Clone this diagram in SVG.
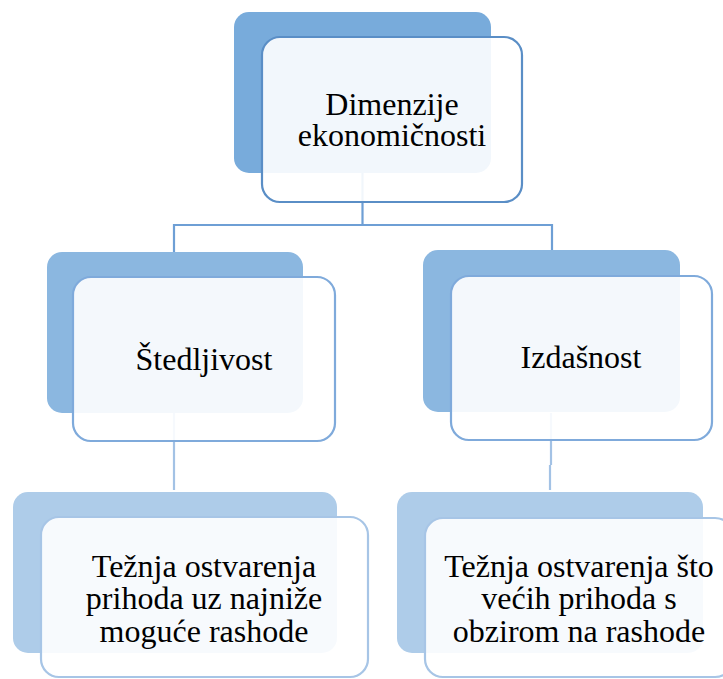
<svg xmlns="http://www.w3.org/2000/svg" width="723" height="679" viewBox="0 0 723 679">
<style>
text{font-family:'Liberation Serif','DejaVu Serif',serif;font-size:32px;fill:#000;text-anchor:middle}
.front{fill:#fff;fill-opacity:0.9;stroke-width:2.2}
.c1{fill:none;stroke:#6E9FD5;stroke-width:2.2}
.c2{fill:none;stroke:#A3C2E5;stroke-width:2.2}
</style>
<rect width="723" height="679" fill="#fff"/>
<g id="connectors">
<path class="c1" d="M362.5 173 V225 M174 252 V225 H552 V250"/>
<path class="c2" d="M174 413 V490 M551 413 V465 M550 465 V490"/>
</g>
<g id="node-top">
<rect x="234" y="12" width="257" height="161" rx="15" fill="#78ABDB"/>
<rect class="front" x="262" y="37" width="260" height="165" rx="18" stroke="#5A8EC6"/>
<text x="392" y="115">Dimenzije</text>
<text x="392" y="146">ekonomičnosti</text>
</g>
<g id="node-stedljivost">
<rect x="47" y="252" width="256" height="161" rx="15" fill="#8BB7E0"/>
<rect class="front" x="73" y="277" width="262" height="164" rx="18" stroke="#7FAADB"/>
<text x="204" y="370">Štedljivost</text>
</g>
<g id="node-izdasnost">
<rect x="423" y="250" width="257" height="162" rx="15" fill="#8BB7E0"/>
<rect class="front" x="451" y="276" width="261" height="164" rx="18" stroke="#7FAADB"/>
<text x="581" y="368">Izdašnost</text>
</g>
<g id="node-bottom-left">
<rect x="13" y="492" width="324" height="161" rx="15" fill="#AECCE9"/>
<rect class="front" x="41" y="517" width="327" height="160" rx="18" stroke="#A7C5E6"/>
<text x="204" y="577">Težnja ostvarenja</text>
<text x="204" y="609">prihoda uz najniže</text>
<text x="204" y="642">moguće rashode</text>
</g>
<g id="node-bottom-right">
<rect x="397" y="492" width="306" height="161" rx="15" fill="#AECCE9"/>
<rect class="front" x="425" y="518" width="308" height="159" rx="18" stroke="#A7C5E6"/>
<text x="579" y="577">Težnja ostvarenja što</text>
<text x="579" y="609">većih prihoda s</text>
<text x="579" y="642">obzirom na rashode</text>
</g>
</svg>
